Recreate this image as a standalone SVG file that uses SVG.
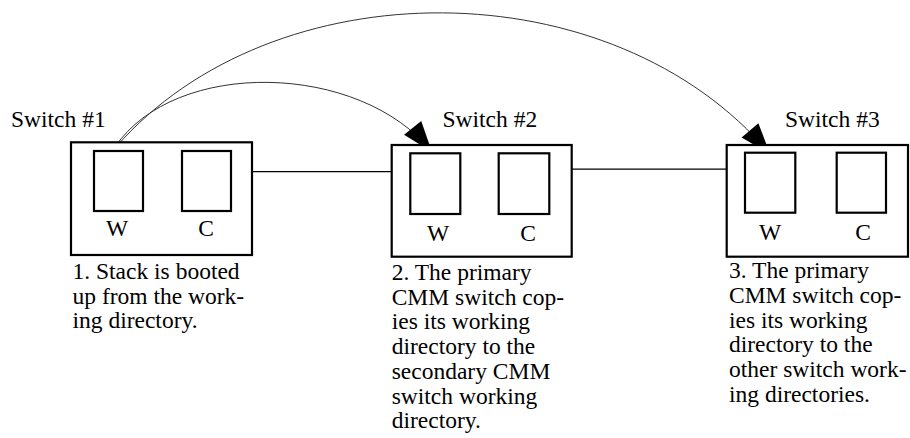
<svg xmlns="http://www.w3.org/2000/svg" width="910" height="438" viewBox="0 0 910 438">
<style>
.box{fill:#fff;stroke:#000;stroke-width:2.2}
.slot{fill:#fff;stroke:#000;stroke-width:2.2}
.lbl{font-family:'Liberation Serif','Times New Roman',serif;font-size:23.5px;fill:#000}
.mid{text-anchor:middle}
.link{stroke:#000;stroke-width:1.2;fill:none}
.arc{stroke:#333;stroke-width:1;fill:none}
</style>
<defs>
<marker id="ah" markerUnits="userSpaceOnUse" markerWidth="34" markerHeight="26" refX="31" refY="11" orient="auto" overflow="visible">
<path d="M0,0 L31,11 L0,22 z" fill="#000"/>
</marker>
</defs>
<rect width="910" height="438" fill="#fff"/>
<g id="connectors">
<line class="link" x1="252" y1="171.7" x2="391.5" y2="171.7"/>
<line class="link" x1="571.7" y1="169.2" x2="730" y2="169.2"/>
<path class="arc" d="M115,147 C175,58 360,62 432,152" marker-end="url(#ah)"/>
<path class="arc" d="M116,147 C273,-33 612,-33 770,154" marker-end="url(#ah)"/>
</g>
<g id="switch1">
<text class="lbl" x="11" y="126.7">Switch #1</text>
<rect class="box" x="71" y="142.3" width="181" height="112.7"/>
<rect class="slot" x="94" y="151" width="49" height="60"/>
<rect class="slot" x="182" y="151" width="49" height="60"/>
<text class="lbl mid" x="117" y="236">W</text>
<text class="lbl mid" x="206" y="236">C</text>
<text class="lbl" x="72.5" y="279">1. Stack is booted</text>
<text class="lbl" x="72.5" y="303.7">up from the work-</text>
<text class="lbl" x="72.5" y="328.4">ing directory.</text>
</g>
<g id="switch2">
<text class="lbl" x="442.5" y="126.7">Switch #2</text>
<rect class="box" x="391.7" y="145" width="180" height="111.7"/>
<rect class="slot" x="410.3" y="153.3" width="50" height="60.7"/>
<rect class="slot" x="498.7" y="153.3" width="50.6" height="60.7"/>
<text class="lbl mid" x="438" y="241">W</text>
<text class="lbl mid" x="528" y="241">C</text>
<text class="lbl" x="391.7" y="280">2. The primary</text>
<text class="lbl" x="391.7" y="304.7">CMM switch cop-</text>
<text class="lbl" x="391.7" y="329.4">ies its working</text>
<text class="lbl" x="391.7" y="354.1">directory to the</text>
<text class="lbl" x="391.7" y="378.8">secondary CMM</text>
<text class="lbl" x="391.7" y="403.5">switch working</text>
<text class="lbl" x="391.7" y="428.2">directory.</text>
</g>
<g id="switch3">
<text class="lbl" x="785" y="126.5">Switch #3</text>
<rect class="box" x="726.7" y="145" width="181.3" height="111.7"/>
<rect class="slot" x="745" y="152.7" width="50.3" height="60"/>
<rect class="slot" x="836.7" y="152.7" width="49.3" height="60"/>
<text class="lbl mid" x="770" y="239.5">W</text>
<text class="lbl mid" x="863" y="239.5">C</text>
<text class="lbl" x="729" y="278.3">3. The primary</text>
<text class="lbl" x="729" y="303">CMM switch cop-</text>
<text class="lbl" x="729" y="327.7">ies its working</text>
<text class="lbl" x="729" y="352.4">directory to the</text>
<text class="lbl" x="729" y="377.1">other switch work-</text>
<text class="lbl" x="729" y="401.8">ing directories.</text>
</g>
</svg>
